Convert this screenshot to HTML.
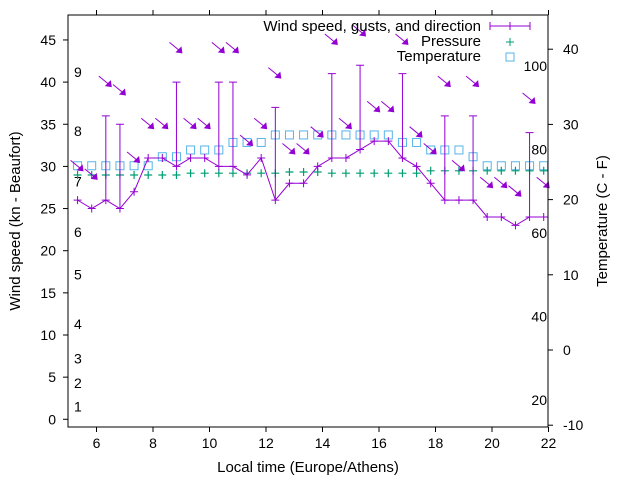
<!DOCTYPE html>
<html><head><meta charset="utf-8"><style>
body{margin:0;background:#fff}
svg{display:block;font-family:"Liberation Sans",sans-serif}
</style></head><body>
<svg id="c" width="640" height="480" viewBox="0 0 640 480">
<rect x="0" y="0" width="640" height="480" fill="#fff"/>
<g id="grid"></g>
<g id="marks"></g>
<rect x="68" y="15" width="480" height="412" fill="none" stroke="#000" stroke-width="1"/>
<text x="20" y="221" transform="rotate(-90 20 221)" text-anchor="middle" font-size="15">Wind speed (kn - Beaufort)</text>
<text x="607" y="221" transform="rotate(-90 607 221)" text-anchor="middle" font-size="15">Temperature (C - F)</text>
<text x="308" y="472" text-anchor="middle" font-size="15">Local time (Europe/Athens)</text>
<g>
<text x="481" y="31" text-anchor="end" font-size="15">Wind speed, gusts, and direction</text>
<g stroke="#9400d3"><line x1="490" y1="26" x2="530" y2="26"/><line x1="490" y1="22" x2="490" y2="30"/><line x1="530" y1="22" x2="530" y2="30"/><line x1="510" y1="22" x2="510" y2="30"/></g>
<text x="481" y="46" text-anchor="end" font-size="15">Pressure</text>
<g stroke="#009e73"><line x1="506" y1="42" x2="514" y2="42"/><line x1="510" y1="38" x2="510" y2="46"/></g>
<text x="481" y="61" text-anchor="end" font-size="15">Temperature</text>
<rect x="506" y="53" width="8" height="8" fill="none" stroke="#56b4e9"/>
</g>
</svg>
<script>
const times=[5.33,5.83,6.33,6.83,7.33,7.83,8.33,8.83,9.33,9.83,10.33,10.83,11.33,11.83,12.33,12.83,13.33,13.83,14.33,14.83,15.33,15.83,16.33,16.83,17.33,17.83,18.33,18.83,19.33,19.83,20.33,20.83,21.33,21.83];
const windSpeed=[26,25,26,25,27,31,31,30,31,31,30,30,29,31,26,28,28,30,31,31,32,33,33,31,30,28,26,26,26,24,24,23,24,24];
const gusts=[null,null,36,35,null,null,null,40,null,null,40,40,null,null,37,null,null,null,41,null,42,null,null,41,null,null,36,null,36,null,null,null,34,null];
const arrowLevel=[30,29,40,39,31,35,35,44,35,35,44,44,33,35,41,32,32,34,45,35,46,37,37,45,34,32,40,30,40,28,28,27,38,28];
const pressure=[1012,1012,1012,1012,1012,1012,1012,1012,1012.3,1012.3,1012.3,1012.3,1012.3,1012.3,1012.3,1012.5,1012.5,1012.5,1012.3,1012.3,1012.3,1012.3,1012.3,1012.3,1012.3,1012.7,1012.7,1012.7,1012.7,1012.7,1012.7,1012.7,1012.7,1012.7];
const tempC=[24.5,24.5,24.5,24.5,24.5,24.5,25.7,25.7,26.6,26.6,26.6,27.6,27.6,27.6,28.6,28.6,28.6,28.6,28.6,28.6,28.6,28.6,28.6,27.6,27.6,26.6,26.6,26.6,25.7,24.5,24.5,24.5,24.5,24.5];
const xTicks=[6,8,10,12,14,16,18,20,22];
const yTicks=[0,5,10,15,20,25,30,35,40,45];
const y2Ticks=[-10,0,10,20,30,40];
const beaufort=[[1,1.5],[2,4.3],[3,7.2],[4,11.3],[5,17.2],[6,22.2],[7,28.2],[8,34.2],[9,41.2]];
const fahrenheit=[20,40,60,80,100];

const X=t=>96.5+(t-6)*28.25;
const Y=v=>419.3-v*8.43;
const Y2=c=>350-c*7.52;
const YF=f=>Y2((f-32)*5/9);
const YP=p=>175-(p-1012)*6;
const NS='http://www.w3.org/2000/svg';
const g=document.getElementById('grid'), m=document.getElementById('marks');
function el(tag,attrs,parent){const e=document.createElementNS(NS,tag);for(const k in attrs)e.setAttribute(k,attrs[k]);parent.appendChild(e);return e;}

xTicks.forEach(t=>{
  const l=el('line',{x1:X(t),x2:X(t),y1:427,y2:432,stroke:'#000'},g);
  
  
  const l2=el('line',{x1:X(t),x2:X(t),y1:10,y2:15,stroke:'#000'},g);
  
  
  const tx=el('text',{x:X(t),y:448,'text-anchor':'middle','font-size':14},g);tx.textContent=t;
  
  
});
yTicks.forEach(v=>{
  const l=el('line',{x1:63,x2:68,y1:Y(v),y2:Y(v),stroke:'#000'},g);
  
  
  const tx=el('text',{x:56,y:Y(v)+5,'text-anchor':'end','font-size':14},g);tx.textContent=v;
  
  
});
y2Ticks.forEach(v=>{
  const l=el('line',{x1:548,x2:553,y1:Y2(v),y2:Y2(v),stroke:'#000'},g);
  
  
  const tx=el('text',{x:563,y:Y2(v)+5,'font-size':14},g);tx.textContent=v;
  
  
});
beaufort.forEach(b=>{
  const tx=el('text',{x:74,y:Y(b[1])+5,'font-size':14},g);tx.textContent=b[0];
  
  
});
fahrenheit.forEach(f=>{
  const tx=el('text',{x:547,y:YF(f)+5,'text-anchor':'end','font-size':14},g);tx.textContent=f;
  
  
});

// temperature
times.forEach((t,i)=>{
  const r=el('rect',{x:X(t)-4,y:Y2(tempC[i])-4,width:8,height:8,fill:'none',stroke:'#56b4e9'},m);
  
  
});
// pressure
times.forEach((t,i)=>{
  const x=X(t),y=YP(pressure[i]);
  const p=el('path',{d:`M${x-4},${y}H${x+4}M${x},${y-4}V${y+4}`,stroke:'#009e73','stroke-width':1.2},m);
  
  
});
// wind line
const line=el('polyline',{points:times.map((t,i)=>X(t)+','+Y(windSpeed[i])).join(' '),fill:'none',stroke:'#9400d3'},m);


times.forEach((t,i)=>{
  const x=X(t),y=Y(windSpeed[i]);
  let d=`M${x-4},${y}H${x+4}M${x},${y-4}V${y+4}`;
  if(gusts[i]!=null){const gy=Y(gusts[i]);d+=`M${x},${y}V${gy}M${x-4},${gy}H${x+4}`;}
  const p=el('path',{d:d,stroke:'#9400d3',fill:'none'},m);
  
  
});
// direction arrows
times.forEach((t,i)=>{
  const x=X(t)+1,y=Y(arrowLevel[i]);
  const a=el('g',{},m);
  
  
  el('line',{x1:x-8,y1:y-6,x2:x+3,y2:y+3,stroke:'#9400d3'},a);
  el('polygon',{points:`${x+5},${y+5} ${x-2},${y+4} ${x+4},${y-2}`,fill:'#9400d3'},a);
});
</script>
</body></html>
